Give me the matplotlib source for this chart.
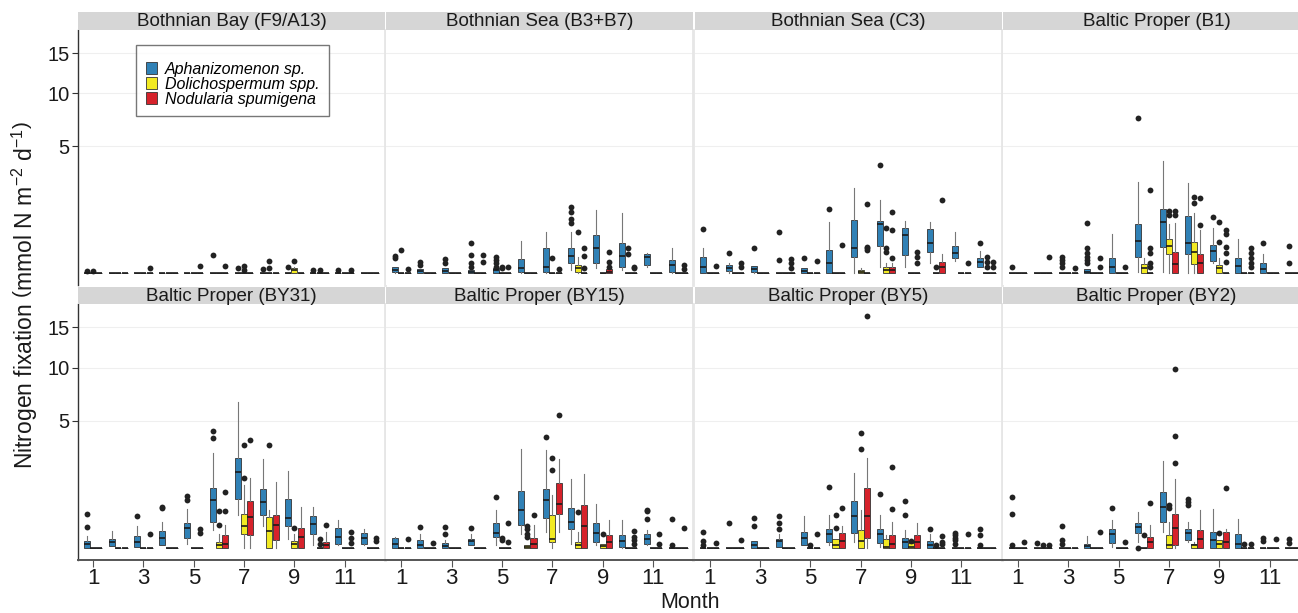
import numpy as np
import matplotlib.pyplot as plt
from matplotlib.patches import Patch

plt.rcParams['font.family'] = ['Liberation Sans', 'DejaVu Sans']
plt.rcParams['mathtext.fontset'] = 'custom'
plt.rcParams['mathtext.rm'] = 'Liberation Sans'
plt.rcParams['mathtext.it'] = 'Liberation Sans:italic'

months = list(range(1, 13))
month_ticks = [1, 3, 5, 7, 9, 11]
species = ['Aphanizomenon sp.', 'Dolichospermum spp.', 'Nodularia spumigena']
colours = ['#3081b6', '#f2ea22', '#d6222b']
stations = ['Bothnian Bay (F9/A13)', 'Bothnian Sea (B3+B7)', 'Bothnian Sea (C3)',
            'Baltic Proper (B1)', 'Baltic Proper (BY31)', 'Baltic Proper (BY15)',
            'Baltic Proper (BY5)', 'Baltic Proper (BY2)']

# (month, species, whisker low, q1, median, q3, whisker high, outliers)
# boxes that are not listed are all zero
bothnian_bay = [
    (1, 0, 0, 0, 0, 0, 0, [0.001]),
    (1, 1, 0, 0, 0, 0, 0, [0.001]),
    (3, 2, 0, 0, 0, 0, 0, [0.009]),
    (5, 2, 0, 0, 0, 0, 0, [0.017]),
    (6, 0, 0, 0, 0, 0, 0, [0.10]),
    (6, 2, 0, 0, 0, 0, 0, [0.017]),
    (7, 0, 0, 0, 0, 0, 0, [0.009]),
    (7, 1, 0, 0, 0, 0, 0, [0.017, 0.003]),
    (8, 0, 0, 0, 0, 0, 0, [0.004]),
    (8, 1, 0, 0, 0, 0, 0, [0.044, 0.009]),
    (9, 0, 0, 0, 0, 0, 0, [0.012]),
    (9, 1, 0, 0, 0.003, 0.007, 0.01, [0.044]),
    (10, 0, 0, 0, 0, 0, 0, [0.003]),
    (10, 1, 0, 0, 0, 0, 0, [0.003]),
    (11, 0, 0, 0, 0, 0, 0, [0.002]),
    (11, 2, 0, 0, 0, 0, 0, [0.002]),
]

bothnian_sea_b = [
    (1, 0, 0, 0.0005, 0.003, 0.012, 0.012, [0.066, 0.089]),
    (1, 1, 0, 0, 0, 0, 0, [0.17]),
    (1, 2, 0, 0, 0, 0, 0, [0.004]),
    (2, 0, 0, 0, 0.001, 0.004, 0.004, [0.035, 0.02]),
    (3, 0, 0, 0, 0.0015, 0.007, 0.007, [0.058, 0.029]),
    (4, 0, 0, 0, 0.0005, 0.003, 0.003, [0.28, 0.10, 0.029, 0.012]),
    (4, 2, 0, 0, 0, 0, 0, [0.10, 0.04]),
    (5, 0, 0, 0, 0.002, 0.009, 0.009, [0.082, 0.052, 0.029, 0.012]),
    (5, 1, 0, 0, 0, 0, 0, [0.012, 0.007]),
    (5, 2, 0, 0, 0, 0, 0, [0.012]),
    (6, 0, 0, 0.0001, 0.007, 0.058, 0.32, []),
    (7, 0, 0, 0.0005, 0.012, 0.19, 0.53, []),
    (7, 1, 0, 0, 0, 0, 0, [0.066]),
    (7, 2, 0, 0, 0, 0, 0, [0.004]),
    (8, 0, 0.003, 0.029, 0.089, 0.19, 0.53, [1.35, 1.16, 0.92, 0.78]),
    (8, 1, 0, 0.0003, 0.007, 0.02, 0.076, [0.53]),
    (8, 2, 0, 0, 0, 0, 0, [0.19, 0.089, 0.009]),
    (9, 0, 0.007, 0.029, 0.19, 0.44, 1.22, []),
    (9, 2, 0, 0, 0.0005, 0.004, 0.01, [0.14, 0.04, 0.012]),
    (10, 0, 0.003, 0.012, 0.089, 0.28, 1.10, []),
    (10, 1, 0, 0, 0, 0, 0, [0.20, 0.11]),
    (10, 2, 0, 0, 0, 0, 0, [0.012, 0.007]),
    (11, 0, 0.012, 0.02, 0.082, 0.11, 0.12, []),
    (12, 0, 0, 0.0005, 0.02, 0.052, 0.20, []),
    (12, 2, 0, 0, 0, 0, 0, [0.02, 0.004]),
]

bothnian_sea_c = [
    (1, 0, 0, 0.00003, 0.012, 0.076, 0.20, [0.60]),
    (1, 2, 0, 0, 0, 0, 0, [0.015]),
    (2, 0, 0, 0.0017, 0.007, 0.02, 0.031, [0.12]),
    (2, 2, 0, 0, 0, 0, 0, [0.029, 0.012]),
    (3, 0, 0, 0.0001, 0.004, 0.015, 0.015, [0.20]),
    (4, 0, 0, 0, 0, 0, 0, [0.53, 0.052]),
    (4, 2, 0, 0, 0, 0, 0, [0.058, 0.029, 0.007]),
    (5, 0, 0, 0, 0.0015, 0.007, 0.007, [0.066]),
    (5, 2, 0, 0, 0, 0, 0, [0.044]),
    (6, 0, 0, 0.00003, 0.029, 0.17, 0.81, [1.26]),
    (6, 2, 0, 0, 0, 0, 0, [0.25]),
    (7, 0, 0, 0.082, 0.20, 0.87, 2.24, []),
    (7, 1, 0, 0, 0.0005, 0.003, 0.007, []),
    (7, 2, 0, 0, 0, 0, 0, [1.49, 0.21, 0.19, 0.16]),
    (8, 0, 0.012, 0.22, 0.74, 0.83, 1.64, [3.59]),
    (8, 1, 0, 0, 0.003, 0.012, 0.03, [0.63, 0.19, 0.14]),
    (8, 2, 0, 0, 0.003, 0.012, 0.03, [1.16, 0.57, 0.066]),
    (9, 0, 0.012, 0.10, 0.44, 0.63, 0.83, []),
    (9, 2, 0, 0, 0, 0, 0, [0.13, 0.076, 0.029]),
    (10, 0, 0.029, 0.14, 0.27, 0.61, 0.81, []),
    (10, 1, 0, 0, 0, 0, 0, [0.012]),
    (10, 2, 0, 0.00003, 0.012, 0.04, 0.11, [1.64]),
    (11, 0, 0.044, 0.066, 0.12, 0.22, 0.53, []),
    (11, 2, 0, 0, 0, 0, 0, [0.029]),
    (12, 0, 0.012, 0.012, 0.04, 0.072, 0.15, [0.27]),
    (12, 1, 0, 0, 0, 0, 0, [0.082, 0.04, 0.012]),
    (12, 2, 0, 0, 0, 0, 0, [0.04, 0.012]),
]

baltic_b1 = [
    (1, 0, 0, 0, 0, 0, 0, [0.012]),
    (2, 2, 0, 0, 0, 0, 0, [0.082]),
    (3, 0, 0, 0, 0, 0, 0, [0.082, 0.052, 0.029, 0.012]),
    (3, 2, 0, 0, 0, 0, 0, [0.007]),
    (4, 0, 0, 0, 0.0002, 0.004, 0.004, [0.76, 0.19, 0.12, 0.082, 0.052, 0.029]),
    (4, 2, 0, 0, 0, 0, 0, [0.066, 0.012]),
    (5, 0, 0, 0.00003, 0.012, 0.072, 0.46, []),
    (5, 2, 0, 0, 0, 0, 0, [0.012]),
    (6, 0, 0.0005, 0.076, 0.32, 0.74, 2.57, [7.43]),
    (6, 1, 0, 0.00003, 0.007, 0.023, 0.066, []),
    (6, 2, 0, 0, 0, 0, 0, [2.12, 0.20, 0.12, 0.033, 0.012]),
    (7, 0, 0.0005, 0.21, 0.81, 1.26, 3.86, []),
    (7, 1, 0.00003, 0.107, 0.22, 0.35, 0.73, [1.18, 1.04]),
    (7, 2, 0, 0.00003, 0.023, 0.14, 0.78, [1.18, 1.04]),
    (8, 0, 0.00003, 0.107, 0.27, 1.01, 2.51, []),
    (8, 1, 0, 0.025, 0.14, 0.29, 1.10, [1.79, 1.54]),
    (8, 2, 0, 0.00003, 0.029, 0.107, 0.57, [1.75, 0.70]),
    (9, 0, 0.029, 0.044, 0.15, 0.25, 0.63, [0.98]),
    (9, 1, 0, 0.00003, 0.007, 0.02, 0.066, [0.81, 0.29]),
    (9, 2, 0, 0, 0, 0, 0, [0.57, 0.48, 0.21, 0.12, 0.04]),
    (10, 0, 0.00003, 0.00003, 0.017, 0.072, 0.36, []),
    (10, 2, 0, 0, 0, 0, 0, [0.19, 0.12, 0.066, 0.029, 0.012]),
    (11, 0, 0, 0.00003, 0.004, 0.029, 0.107, [0.27]),
    (12, 0, 0, 0, 0, 0, 0, [0.22, 0.029]),
]

baltic_by31 = [
    (1, 0, 0, 0, 0.007, 0.015, 0.047, [0.37, 0.14]),
    (2, 0, 0.0012, 0.0012, 0.012, 0.029, 0.089, []),
    (3, 0, 0.0005, 0.0005, 0.012, 0.047, 0.15, [0.32]),
    (3, 2, 0, 0, 0, 0, 0, [0.066]),
    (4, 0, 0.004, 0.004, 0.035, 0.093, 0.21, [0.53, 0.51]),
    (5, 0, 0.007, 0.035, 0.127, 0.20, 0.47, [0.84, 0.71]),
    (5, 2, 0, 0, 0, 0, 0, [0.12, 0.076]),
    (6, 0, 0.10, 0.22, 0.71, 1.10, 2.80, [4.24, 3.75]),
    (6, 1, 0, 0, 0.003, 0.012, 0.066, [0.42, 0.17]),
    (6, 2, 0, 0, 0.007, 0.052, 0.17, [0.98, 0.43]),
    (7, 0, 0.35, 0.76, 1.79, 2.48, 6.59, []),
    (7, 1, 0, 0.066, 0.16, 0.37, 1.22, [3.31, 1.54]),
    (7, 2, 0, 0.058, 0.30, 0.69, 1.52, [3.59]),
    (8, 0, 0.16, 0.34, 0.66, 1.07, 2.44, []),
    (8, 1, 0, 0, 0.089, 0.30, 0.44, [3.31]),
    (8, 2, 0, 0.02, 0.17, 0.34, 1.35, []),
    (9, 0, 0.029, 0.16, 0.29, 0.76, 1.84, []),
    (9, 1, 0, 0, 0.007, 0.017, 0.066, [0.127]),
    (9, 2, 0, 0, 0.04, 0.13, 0.53, []),
    (10, 0, 0.004, 0.066, 0.18, 0.32, 0.53, []),
    (10, 1, 0, 0, 0, 0, 0, [0.029, 0.007]),
    (10, 2, 0, 0, 0.003, 0.012, 0.082, [0.17]),
    (11, 0, 0.004, 0.007, 0.04, 0.127, 0.24, []),
    (11, 2, 0, 0, 0, 0, 0, [0.082, 0.033, 0.009]),
    (12, 0, 0.004, 0.007, 0.033, 0.076, 0.12, []),
    (12, 2, 0, 0, 0, 0, 0, [0.033, 0.015]),
]

baltic_by15 = [
    (1, 0, 0, 0, 0.007, 0.033, 0.04, []),
    (1, 2, 0, 0, 0, 0, 0, [0.029]),
    (2, 0, 0, 0, 0.004, 0.02, 0.066, [0.14]),
    (2, 2, 0, 0, 0, 0, 0, [0.009]),
    (3, 0, 0, 0, 0.0015, 0.009, 0.02, [0.14, 0.066]),
    (4, 0, 0.003, 0.003, 0.015, 0.029, 0.066, [0.13]),
    (5, 0, 0.004, 0.04, 0.076, 0.19, 0.44, [0.81]),
    (5, 1, 0, 0, 0, 0, 0, [0.035, 0.02]),
    (5, 2, 0, 0, 0, 0, 0, [0.20, 0.012]),
    (6, 0, 0.066, 0.17, 0.44, 1.01, 3.06, []),
    (6, 1, 0, 0, 0.0005, 0.003, 0.003, [0.16, 0.12, 0.066, 0.04]),
    (6, 2, 0, 0, 0.007, 0.033, 0.17, [0.34]),
    (7, 0, 0.082, 0.28, 0.71, 1.07, 2.96, [3.82]),
    (7, 1, 0, 0.012, 0.029, 0.35, 0.89, [2.48, 1.87]),
    (7, 2, 0.082, 0.37, 0.61, 1.31, 2.44, [5.45]),
    (8, 0, 0.007, 0.11, 0.21, 0.51, 1.47, []),
    (8, 1, 0, 0, 0.003, 0.012, 0.082, [0.41]),
    (8, 2, 0, 0, 0.16, 0.57, 1.72, []),
    (9, 0, 0.003, 0.012, 0.076, 0.20, 0.60, []),
    (9, 1, 0, 0, 0.0015, 0.007, 0.007, [0.066]),
    (9, 2, 0, 0, 0.012, 0.052, 0.24, []),
    (10, 0, 0, 0.0005, 0.015, 0.052, 0.24, []),
    (10, 2, 0, 0, 0, 0, 0, [0.089, 0.04, 0.02, 0.007]),
    (11, 0, 0.004, 0.007, 0.029, 0.066, 0.10, [0.46, 0.42, 0.27]),
    (11, 2, 0, 0, 0, 0, 0, [0.066, 0.007]),
    (12, 0, 0, 0, 0, 0, 0, [0.27, 0.003]),
    (12, 2, 0, 0, 0, 0, 0, [0.13]),
]

baltic_by5 = [
    (1, 0, 0, 0, 0, 0, 0, [0.082, 0.015, 0.003]),
    (1, 2, 0, 0, 0, 0, 0, [0.009]),
    (2, 0, 0, 0, 0, 0, 0, [0.20]),
    (2, 2, 0, 0, 0, 0, 0, [0.02]),
    (3, 0, 0, 0, 0.004, 0.015, 0.015, [0.28, 0.15]),
    (4, 0, 0.0005, 0.0005, 0.015, 0.029, 0.066, [0.32, 0.19, 0.12]),
    (5, 0, 0.004, 0.004, 0.033, 0.082, 0.32, []),
    (5, 1, 0, 0, 0, 0, 0, [0.004]),
    (5, 2, 0, 0, 0, 0, 0, [0.066]),
    (6, 0, 0.003, 0.012, 0.066, 0.12, 0.35, [1.16]),
    (6, 1, 0, 0, 0.003, 0.029, 0.029, [0.35, 0.13]),
    (6, 2, 0, 0, 0.015, 0.072, 0.16, [0.51]),
    (7, 0, 0.012, 0.076, 0.32, 0.68, 1.76, []),
    (7, 1, 0, 0, 0.015, 0.107, 0.44, [4.12, 3.02]),
    (7, 2, 0, 0.035, 0.32, 1.12, 2.51, [16.6]),
    (8, 0, 0.0005, 0.009, 0.066, 0.11, 0.35, [0.92]),
    (8, 1, 0, 0, 0.0005, 0.029, 0.052, []),
    (8, 2, 0, 0, 0.007, 0.052, 0.21, [2.04, 0.48]),
    (9, 0, 0, 0, 0.012, 0.035, 0.107, [0.68, 0.35]),
    (9, 1, 0, 0, 0.0005, 0.009, 0.009, [0.015]),
    (9, 2, 0, 0, 0.012, 0.058, 0.20, []),
    (10, 0, 0, 0, 0.004, 0.015, 0.066, [0.12]),
    (10, 1, 0, 0, 0, 0, 0, [0.003]),
    (10, 2, 0, 0, 0, 0, 0, [0.044, 0.012, 0.007]),
    (11, 0, 0, 0, 0, 0, 0, [0.076, 0.058, 0.033, 0.02, 0.007]),
    (11, 2, 0, 0, 0, 0, 0, [0.063]),
    (12, 0, 0, 0, 0, 0, 0, [0.12, 0.058, 0.003]),
]

baltic_by2 = [
    (1, 0, 0, 0, 0, 0, 0, [0.81, 0.37, 0.004]),
    (1, 2, 0, 0, 0, 0, 0, [0.012]),
    (2, 0, 0, 0, 0, 0, 0, [0.01]),
    (2, 1, 0, 0, 0, 0, 0, [0.003]),
    (2, 2, 0, 0, 0, 0, 0, [0.003]),
    (3, 0, 0, 0, 0, 0, 0, [0.15, 0.023, 0.007]),
    (4, 0, 0, 0, 0.0015, 0.007, 0.047, []),
    (4, 2, 0, 0, 0, 0, 0, [0.082]),
    (5, 0, 0.0005, 0.01, 0.066, 0.12, 0.25, [0.50]),
    (5, 2, 0, 0, 0, 0, 0, [0.012]),
    (6, 0, 0.012, 0.076, 0.14, 0.19, 0.41, [0.0002]),
    (6, 1, 0, 0, 0, 0, 0, [0.052]),
    (6, 2, 0, 0, 0.012, 0.04, 0.17, [0.64]),
    (7, 0, 0.082, 0.22, 0.53, 0.98, 2.35, []),
    (7, 1, 0, 0, 0.003, 0.058, 0.21, [0.59, 0.50]),
    (7, 2, 0, 0.003, 0.127, 0.37, 1.49, [9.9, 3.88, 2.24]),
    (8, 0, 0.012, 0.02, 0.076, 0.12, 0.21, [0.76, 0.66, 0.57]),
    (8, 1, 0, 0, 0.003, 0.007, 0.012, []),
    (8, 2, 0, 0, 0.029, 0.107, 0.44, []),
    (9, 0, 0, 0, 0.02, 0.082, 0.48, []),
    (9, 1, 0, 0, 0.007, 0.02, 0.02, [0.076]),
    (9, 2, 0, 0, 0.012, 0.082, 0.12, [1.13]),
    (10, 0, 0, 0, 0.007, 0.066, 0.27, []),
    (10, 1, 0, 0, 0, 0, 0, [0.007]),
    (10, 2, 0, 0, 0, 0, 0, [0.007]),
    (11, 0, 0, 0, 0, 0, 0, [0.033, 0.015]),
    (11, 2, 0, 0, 0, 0, 0, [0.029]),
    (12, 0, 0, 0, 0, 0, 0, [0.025, 0.01]),
]

panels = [bothnian_bay, bothnian_sea_b, bothnian_sea_c, baltic_b1,
          baltic_by31, baltic_by15, baltic_by5, baltic_by2]


def box_stats(rows, sp):
    table = {m: dict(whislo=0, q1=0, med=0, q3=0, whishi=0, fliers=[]) for m in months}
    for m, s, lo, q1, med, q3, hi, fl in rows:
        if s == sp:
            table[m] = dict(whislo=lo, q1=q1, med=med, q3=q3, whishi=hi, fliers=fl)
    return [table[m] for m in months]


# square-root axis (signed so the small negative expansion below zero works)
def fwd(v):
    v = np.asarray(v, dtype=float)
    return np.sign(v) * np.sqrt(np.abs(v))


def inv(v):
    v = np.asarray(v, dtype=float)
    return np.sign(v) * v ** 2


W, H = 1298, 613
fig = plt.figure(figsize=(W / 100, H / 100), dpi=100)
fig.patch.set_facecolor('white')

col_left = [78 + i * 308.3 for i in range(4)]
panel_w = 307
rows_px = [(30, 284.5), (304, 560)]
strips_px = [(12, 30), (287, 304)]

axes = []
for idx, (name, rows) in enumerate(zip(stations, panels)):
    r, c = divmod(idx, 4)
    x0 = col_left[c]
    top, bot = rows_px[r]
    ax = fig.add_axes([x0 / W, 1 - bot / H, panel_w / W, (bot - top) / H])
    axes.append(ax)

    # strip
    st, sb = strips_px[r]
    sax = fig.add_axes([x0 / W, 1 - sb / H, panel_w / W, (sb - st) / H])
    sax.set_facecolor('#d6d6d6')
    sax.set_xticks([])
    sax.set_yticks([])
    for s in sax.spines.values():
        s.set_visible(False)
    sax.text(0.5, 0.45, name, ha='center', va='center', fontsize=13.5,
             color='#1a1a1a', transform=sax.transAxes)

    ax.set_yscale('function', functions=(fwd, inv))
    for sp in range(3):
        ax.bxp(box_stats(rows, sp), positions=[m + (sp - 1) * 0.25 for m in months],
               widths=0.24, patch_artist=True, showcaps=False, manage_ticks=False,
               boxprops=dict(facecolor=colours[sp], edgecolor='#333333', linewidth=0.6),
               whiskerprops=dict(color='#777777', linewidth=0.8),
               medianprops=dict(color='#1a1a1a', linewidth=1.2),
               flierprops=dict(marker='o', markerfacecolor='#222222',
                               markeredgecolor='none', markersize=4.2))

    ax.set_xlim(0.4, 12.6)
    ax.set_ylim(-0.0416, 18.33)
    ax.set_yticks([5, 10, 15])
    ax.set_xticks(month_ticks)
    ax.yaxis.grid(True, color='#efefef', linewidth=0.8)
    ax.set_axisbelow(True)

    for s in ax.spines.values():
        s.set_visible(False)
    if c < 3:
        ax.spines['right'].set_visible(True)
        ax.spines['right'].set_color('#e6e6e6')
        ax.spines['right'].set_linewidth(2)
    if c == 0:
        ax.spines['left'].set_visible(True)
        ax.spines['left'].set_color('#333333')
        ax.spines['left'].set_linewidth(1.0)
        ax.tick_params(axis='y', length=4, color='#333333', labelsize=14.5,
                       labelcolor='#1a1a1a', pad=2)
    else:
        ax.tick_params(axis='y', left=False, labelleft=False)
    if r == 1:
        ax.spines['bottom'].set_visible(True)
        ax.spines['bottom'].set_color('#555555')
        ax.spines['bottom'].set_linewidth(1.4)
        ax.tick_params(axis='x', length=5, color='#555555', labelsize=16,
                       labelcolor='#1a1a1a', pad=1)
    else:
        ax.tick_params(axis='x', bottom=False, labelbottom=False)

handles = [Patch(facecolor=col, edgecolor='#333333', linewidth=0.6) for col in colours]
leg = axes[0].legend(handles, species, loc='upper left',
                     bbox_to_anchor=(136 / W, 1 - 45 / H), bbox_transform=fig.transFigure,
                     borderaxespad=0, frameon=True, fancybox=False,
                     prop=dict(style='italic', size=11.5), labelspacing=0.0,
                     handlelength=0.7, handleheight=0.7, handletextpad=0.5,
                     borderpad=0.6, title=' ', title_fontproperties=dict(size=6))
leg.get_frame().set_edgecolor('#555555')
leg.get_frame().set_linewidth(1.0)

fig.text(25 / W, 1 - 295 / H,
         r'Nitrogen fixation $\left(\mathrm{mmol\ N\ m^{-2}\ d^{-1}}\right)$',
         rotation=90, ha='center', va='center', fontsize=16.5, color='#1a1a1a')
fig.text(690 / W, 1 - 602 / H, 'Month', ha='center', va='center',
         fontsize=15.5, color='#1a1a1a')

fig.savefig('out.png', dpi=100)
